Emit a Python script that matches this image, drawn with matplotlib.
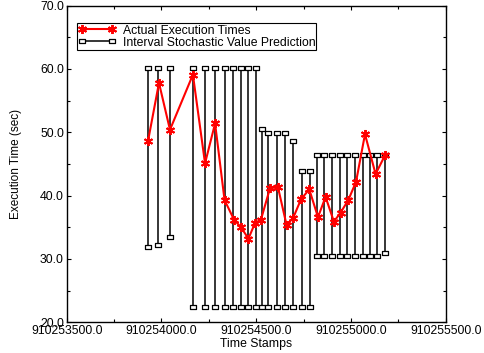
import numpy as np
import matplotlib
matplotlib.use("Agg")
import matplotlib.pyplot as plt
from matplotlib.path import Path
from matplotlib.ticker import FormatStrFormatter, MultipleLocator

plt.rcParams['font.family'] = ['Liberation Sans', 'DejaVu Sans']

# DATA
ts_actual = [910253929, 910253987, 910254045, 910254166, 910254230, 910254283,
             910254333, 910254383, 910254420, 910254459, 910254494, 910254525,
             910254573, 910254615, 910254660, 910254694, 910254736, 910254780,
             910254826, 910254866, 910254910, 910254945, 910254986, 910255027,
             910255074, 910255130, 910255180]
actual = [48.6, 57.8, 50.4, 59.1, 45.1, 51.4, 39.3, 36.2, 35.0, 33.2, 35.7, 36.2,
          41.2, 41.3, 35.4, 36.4, 39.4, 41.0, 36.6, 39.8, 35.9, 37.3, 39.3, 42.2,
          49.7, 43.4, 46.4]

ts_pred = [910253927, 910253984, 910254047, 910254166, 910254230, 910254283,
           910254335, 910254378, 910254420, 910254458, 910254497, 910254529,
           910254564, 910254608, 910254652, 910254696, 910254740, 910254784,
           910254821, 910254860, 910254900, 910254940, 910254979, 910255021,
           910255061, 910255103, 910255140, 910255178]
upper = [60.2, 60.2, 60.2, 60.2, 60.2, 60.2, 60.2, 60.2, 60.2, 60.2, 60.2, 50.6,
         49.85, 49.85, 49.85, 48.7, 43.9, 43.9, 46.4, 46.4, 46.4, 46.4, 46.4, 46.4,
         46.4, 46.4, 46.4, 46.4]
lower = [31.85, 32.2, 33.5, 22.4, 22.4, 22.4, 22.4, 22.4, 22.4, 22.4, 22.4, 22.4,
         22.4, 22.4, 22.4, 22.4, 22.4, 22.4, 30.4, 30.4, 30.4, 30.4, 30.4, 30.4,
         30.4, 30.4, 30.4, 30.9]

# wide open box marker like the gnuplot one
box = Path([(-1.4, -1), (1.4, -1), (1.4, 1), (-1.4, 1), (-1.4, -1)],
           [Path.MOVETO, Path.LINETO, Path.LINETO, Path.LINETO, Path.CLOSEPOLY])

fig = plt.figure(figsize=(4.85, 3.53), dpi=100)
ax = fig.add_axes([0.1375, 0.087, 0.7815, 0.897])

ax.plot(ts_actual, actual, color='red', lw=1.5, marker=(6, 2, 0), markersize=6.5,
        markeredgewidth=1.4, label='Actual Execution Times', zorder=3)

for i in range(len(ts_pred)):
    ax.plot([ts_pred[i], ts_pred[i]], [lower[i], upper[i]], color='black', lw=1.1,
            marker=box, markersize=5.0, markerfacecolor='white', markeredgewidth=0.9,
            label='Interval Stochastic Value Prediction' if i == 0 else None, zorder=2)

ax.set_xlim(910253500, 910255500)
ax.set_ylim(20, 70)
ax.xaxis.set_major_locator(MultipleLocator(500))
ax.xaxis.set_minor_locator(MultipleLocator(250))
ax.yaxis.set_major_locator(MultipleLocator(10))
ax.yaxis.set_minor_locator(MultipleLocator(5))
ax.xaxis.set_major_formatter(FormatStrFormatter('%.1f'))
ax.yaxis.set_major_formatter(FormatStrFormatter('%.1f'))
ax.tick_params(which='both', direction='in', top=True, right=True, labelsize=8.8, width=0.8)
ax.tick_params(which='major', length=3, pad=2)
ax.tick_params(which='minor', length=2)
for s in ax.spines.values():
    s.set_linewidth(1.0)

ax.set_xlabel('Time Stamps', fontsize=8.8, labelpad=1)
ax.set_ylabel('Execution Time (sec)', fontsize=8.5, labelpad=13)

leg = ax.legend(loc='upper left', bbox_to_anchor=(0.028, 0.944), borderaxespad=0,
                numpoints=2, fontsize=8.8, handlelength=3.0, handletextpad=0.6,
                labelspacing=0.0, borderpad=0.1, fancybox=False, framealpha=1)
leg.get_frame().set_edgecolor('black')
leg.get_frame().set_linewidth(0.8)

fig.savefig('out.png', dpi=100)
